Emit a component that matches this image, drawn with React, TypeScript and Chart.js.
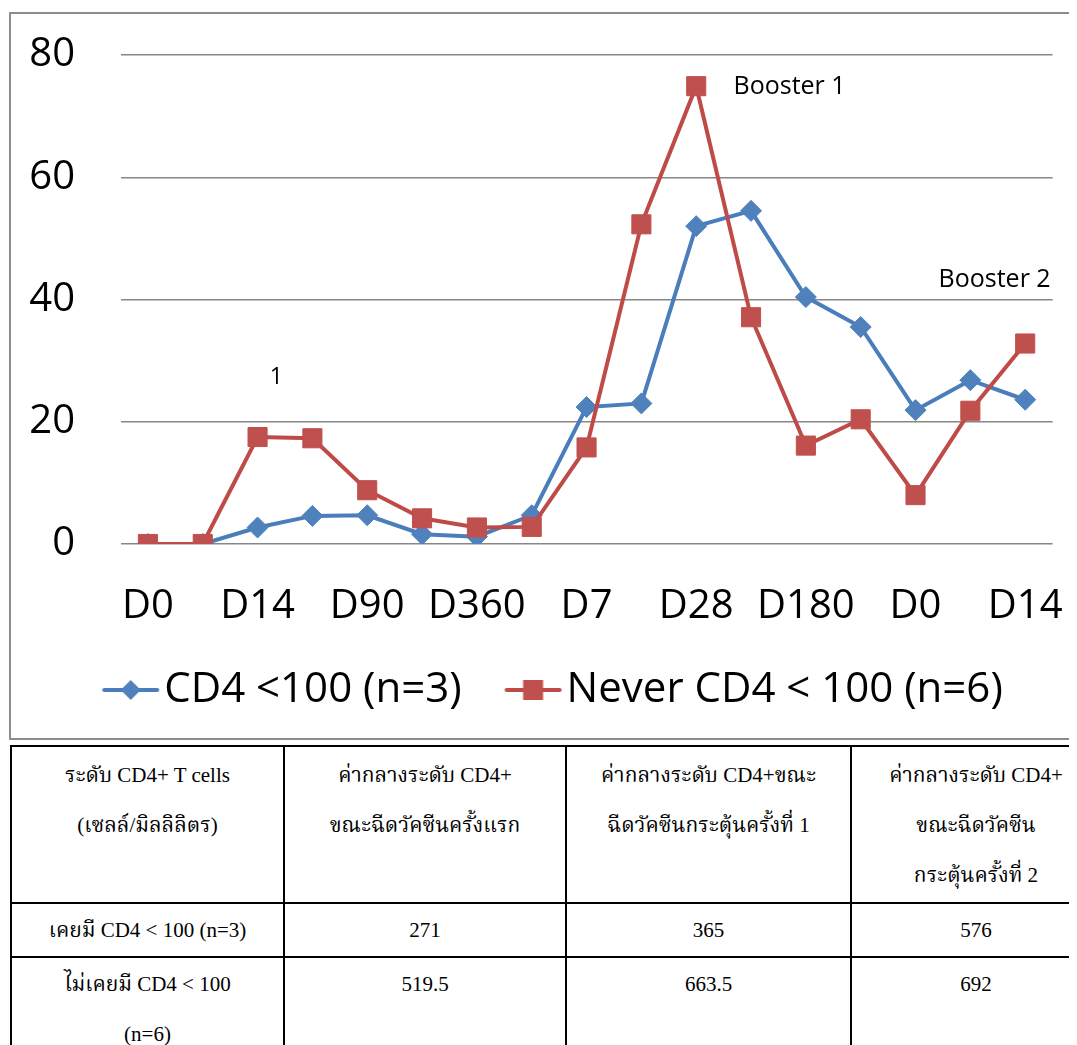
import React, { useEffect, useRef } from "react";
import { Chart, registerables } from "chart.js";

Chart.register(...registerables);

// Sampling days (every other label is printed on the axis)
const categories = [
  "D0", "D7", "D14", "D28", "D90", "D180", "D360",
  "D0", "D7", "D14", "D28", "D90", "D180", "D360",
  "D0", "D7", "D14",
];

const seriesNames = ["CD4 <100 (n=3)", "Never CD4 < 100 (n=6)"];

const cd4Below100 = [0, 0, 2.7, 4.6, 4.7, 1.6, 1.2, 4.7, 22.4, 23.0, 52.0, 54.5, 40.4, 35.5, 21.9, 26.8, 23.6];
const neverBelow100 = [0, 0, 17.5, 17.3, 8.8, 4.2, 2.7, 2.8, 15.8, 52.3, 74.9, 37.1, 16.1, 20.4, 8.0, 21.8, 32.8];

const yTicks = [0, 20, 40, 60, 80];

// Text notes placed on the plot
const noteTexts = ["1", "Booster 1", "Booster 2"];
const notePlacement = [
  { at: 2.34, value: 27.2, align: "center", size: 23 },
  { at: 10.68, value: 74.8, align: "left", size: 25 },
  { at: 14.42, value: 43.2, align: "left", size: 25 },
];

// Summary table
const tableHeader = [
  ["ระดับ CD4+ T cells", "(เซลล์/มิลลิลิตร)"],
  ["ค่ากลางระดับ CD4+", "ขณะฉีดวัคซีนครั้งแรก"],
  ["ค่ากลางระดับ CD4+ขณะ", "ฉีดวัคซีนกระตุ้นครั้งที่ 1"],
  ["ค่ากลางระดับ CD4+", "ขณะฉีดวัคซีน", "กระตุ้นครั้งที่ 2"],
];
const groupLabels = [["เคยมี CD4 < 100 (n=3)"], ["ไม่เคยมี CD4 < 100", "(n=6)"]];
const medianFirst = ["271", "519.5"];
const medianBooster1 = ["365", "663.5"];
const medianBooster2 = ["576", "692"];

const BLUE = "#4A7EBB";
const BLUE_MARK = "#4F81BD";
const RED = "#BE4B48";
const RED_MARK = "#C0504D";
const FONT = '"Open Sans", "Noto Sans", sans-serif';
const SERIF =
  '"Liberation Serif", "Times New Roman", "Noto Serif Thai", "Norasi", "Kinnari", "TH Sarabun New", serif';

const LEGEND_FONT = 42;
const LEGEND_PAD = 10;
const LEGEND_BOX = 74;

// Legend swatch: a short line with the series marker; the visible part sits
// just left of where the legend text begins.
function legendGlyph(line: string, fill: string, shape: "diamond" | "square") {
  const c = document.createElement("canvas");
  c.width = 112;
  c.height = 24;
  const g = c.getContext("2d")!;
  const x0 = 54;
  const x1 = 107;
  const cx = (x0 + x1) / 2;
  g.strokeStyle = line;
  g.lineWidth = 4;
  g.lineCap = "round";
  g.beginPath();
  g.moveTo(x0, 12);
  g.lineTo(x1, 12);
  g.stroke();
  g.fillStyle = fill;
  if (shape === "diamond") {
    g.beginPath();
    g.moveTo(cx, 2);
    g.lineTo(cx + 10, 12);
    g.lineTo(cx, 22);
    g.lineTo(cx - 10, 12);
    g.closePath();
    g.fill();
  } else {
    g.fillRect(cx - 10, 2, 20, 20);
  }
  return c;
}

const notesPlugin = {
  id: "notes",
  afterDatasetsDraw(chart: any) {
    const { ctx, scales } = chart;
    ctx.save();
    ctx.fillStyle = "#000";
    ctx.textBaseline = "middle";
    noteTexts.forEach((t, i) => {
      const p = notePlacement[i];
      ctx.font = `${p.size}px ${FONT}`;
      ctx.textAlign = p.align;
      ctx.fillText(t, scales.x.getPixelForValue(p.at), scales.y.getPixelForValue(p.value));
    });
    ctx.restore();
  },
};

function CD4Chart() {
  const ref = useRef<HTMLCanvasElement>(null);

  useEffect(() => {
    document.body.style.overflow = "hidden";
    const glyphs = [
      legendGlyph(BLUE, BLUE_MARK, "diamond"),
      legendGlyph(RED, RED_MARK, "square"),
    ];
    const chart = new Chart(ref.current!, {
      type: "line",
      data: {
        labels: categories,
        datasets: [
          {
            label: seriesNames[0],
            data: cd4Below100,
            borderColor: BLUE,
            backgroundColor: BLUE_MARK,
            borderWidth: 4,
            pointStyle: "rectRot",
            pointRadius: 10.5,
            pointBorderWidth: 1,
            pointBorderColor: BLUE_MARK,
            pointBackgroundColor: BLUE_MARK,
            tension: 0,
            order: 1,
          },
          {
            label: seriesNames[1],
            data: neverBelow100,
            borderColor: RED,
            backgroundColor: RED_MARK,
            borderWidth: 4,
            pointStyle: "rect",
            pointRadius: 13.5,
            pointBorderWidth: 1,
            pointBorderColor: RED_MARK,
            pointBackgroundColor: RED_MARK,
            tension: 0,
            order: 0,
          },
        ],
      },
      options: {
        animation: false,
        responsive: false,
        maintainAspectRatio: false,
        layout: { autoPadding: false, padding: { left: 11.4, top: 47, right: 24.4, bottom: 18 } },
        scales: {
          x: {
            type: "category",
            offset: true,
            grid: { display: false, drawTicks: false },
            border: { display: false },
            ticks: {
              autoSkip: false,
              maxRotation: 0,
              padding: 39,
              color: "#000",
              font: { family: FONT, size: 40 },
              callback: (_v: any, i: number) => (i % 2 === 0 ? categories[i] : ""),
            },
            afterFit: (s: any) => {
              s.height = 115;
              s.paddingLeft = 0;
              s.paddingRight = 0;
            },
          },
          y: {
            min: 0,
            max: 80,
            afterBuildTicks: (s: any) => {
              s.ticks = yTicks.map((v) => ({ value: v }));
            },
            grid: { color: "#878787", lineWidth: 1.5, drawTicks: false },
            border: { display: false },
            ticks: {
              padding: 45.5,
              color: "#000",
              font: { family: FONT, size: 40 },
            },
            afterFit: (s: any) => {
              s.width = 101.1;
              s.paddingTop = 0;
              s.paddingBottom = 0;
            },
          },
        },
        plugins: {
          legend: {
            position: "bottom",
            align: "center",
            labels: {
              usePointStyle: true,
              pointStyleWidth: LEGEND_BOX,
              padding: LEGEND_PAD,
              color: "#000",
              font: { family: FONT, size: LEGEND_FONT },
              generateLabels: () =>
                seriesNames.map((name, i) => ({
                  text: name,
                  pointStyle: glyphs[i],
                  fillStyle: "transparent",
                  strokeStyle: "transparent",
                  lineWidth: 0,
                  fontColor: "#000",
                  datasetIndex: i,
                  hidden: false,
                })),
            },
          },
          tooltip: { enabled: false },
        },
      },
      plugins: [notesPlugin],
    } as any);
    return () => chart.destroy();
  }, []);

  return (
    <canvas
      ref={ref}
      width={1069}
      height={731}
      style={{ position: "absolute", left: 0, top: 0, width: 1069, height: 731 }}
    />
  );
}

function SummaryTable() {
  const cell: React.CSSProperties = {
    border: "2px solid #000",
    textAlign: "center",
    verticalAlign: "top",
    padding: "3px 4px 0",
    lineHeight: "50px",
  };
  const lines = (parts: string[]) =>
    parts.map((p, i) => (
      <React.Fragment key={i}>
        {i > 0 && <br />}
        {p}
      </React.Fragment>
    ));
  const rows = groupLabels.map((g, i) => [g, [medianFirst[i]], [medianBooster1[i]], [medianBooster2[i]]]);
  return (
    <table
      style={{
        position: "absolute",
        left: 2,
        top: 737,
        borderCollapse: "collapse",
        tableLayout: "fixed",
        width: 1090,
        fontFamily: SERIF,
        fontSize: 21,
        color: "#000",
      }}
    >
      <colgroup>
        <col style={{ width: 273 }} />
        <col style={{ width: 282 }} />
        <col style={{ width: 285 }} />
        <col style={{ width: 250 }} />
      </colgroup>
      <tbody>
        <tr style={{ height: 157 }}>
          {tableHeader.map((h, i) => (
            <td key={i} style={cell}>
              {lines(h)}
            </td>
          ))}
        </tr>
        {rows.map((r, ri) => (
          <tr key={ri} style={{ height: ri === 0 ? 54 : 110 }}>
            {r.map((c, ci) => (
              <td key={ci} style={{ ...cell, paddingTop: 1 }}>
                {lines(c)}
              </td>
            ))}
          </tr>
        ))}
      </tbody>
    </table>
  );
}

export default function App() {
  return (
    <div style={{ position: "relative", width: 1069, height: 1037, overflow: "hidden", background: "#fff" }}>
      <div
        style={{
          position: "absolute",
          left: 1,
          top: 4,
          width: 1100,
          height: 724,
          border: "2px solid #8c8c8c",
        }}
      />
      <CD4Chart />
      <SummaryTable />
    </div>
  );
}
